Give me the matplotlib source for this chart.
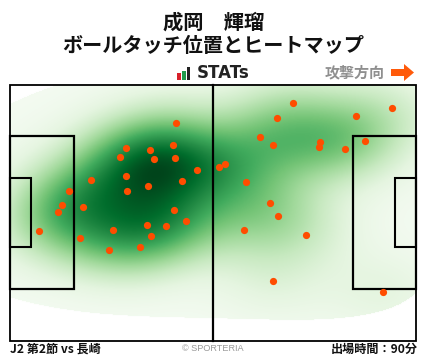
import numpy as np
import matplotlib
matplotlib.use("Agg")
import matplotlib.pyplot as plt
from matplotlib.patches import Rectangle, FancyArrow

plt.rcParams['font.family'] = ['Noto Sans CJK JP', 'DejaVu Sans']

W, H = 428, 359
touch_x = [176.3,126.3,150.3,173.3,120.3,154.3,175.3,197.3,126.3,182.3,91.3,148.3,127.3,69.3,62.3,58.3,83.3,174.3,
           186.3,147.3,166.3,113.3,151.3,39.3,80.3,109.3,140.3,
           293.3,277.3,392.3,356.3,260.3,273.3,320.3,319.3,345.3,365.3,225.3,219.3,246.3,270.3,278.3,
           244.3,306.3,273.3,383.3]
touch_y = [123.3,148.3,150.3,145.3,157.3,159.3,158.3,170.3,176.3,181.3,180.3,186.3,191.3,191.3,205.3,212.3,207.3,210.3,
           221.3,225.3,226.3,230.3,236.3,231.3,238.3,250.3,247.3,
           103.3,118.3,108.3,116.3,137.3,145.3,142.3,147.3,149.3,141.3,164.3,167.3,182.3,203.3,216.3,
           230.3,235.3,281.3,292.3]
title_lines = ["成岡　輝瑠", "ボールタッチ位置とヒートマップ"]
left_note = "J2 第2節 vs 長崎"
right_note = "出場時間：90分"
credit = "© SPORTERIA"
direction = "攻撃方向"
logo_text = "STATs"

L, R, T, B = 10.5, 416.5, 84.5, 340.5

fig = plt.figure(figsize=(W/100, H/100), dpi=100)
ax = fig.add_axes([0, 0, 1, 1])
ax.set_xlim(0, W); ax.set_ylim(H, 0); ax.axis('off')

# density estimate from the touches: a main kernel plus a faint wide one
gx = np.linspace(L, R, 407); gy = np.linspace(T, B, 257)
X, Y = np.meshgrid(gx, gy)
px = np.array(touch_x); py = np.array(touch_y)
Z1 = np.zeros_like(X); Z2 = np.zeros_like(X)
for a, b in zip(px, py):
    Z1 += np.exp(-((X-a)/40)**2/2 - ((Y-b)/28)**2/2)
    Z2 += np.exp(-((X-a)/85)**2/2 - ((Y-b)/40)**2/2)
Z1 = Z1/Z1.max(); Z2 = Z2/Z2.max()
Z = Z1*0.91 + 0.07*Z2
Z = np.where(Z2 < 0.07, np.nan, Z + 0.02)
cmap = matplotlib.colormaps['Greens'].copy()
cmap.set_bad('white')
ax.imshow(Z, extent=[L, R, B, T], cmap=cmap, vmin=0, vmax=1.0, aspect='auto',
          interpolation='bilinear', zorder=1)
ax.set_xlim(0, W); ax.set_ylim(H, 0)

lk = dict(fill=False, ec='black', zorder=3)
ax.add_patch(Rectangle((L, T), R-L, B-T, lw=1.3, **lk))
ax.plot([213, 213], [T, B], color='black', lw=1.6, zorder=3)
for x0, x1 in [(L, 73.8), (352.7, R)]:
    ax.add_patch(Rectangle((x0, 136), x1-x0, 153, lw=1.6, **lk))
for x0, x1 in [(L, 31), (395.5, R)]:
    ax.add_patch(Rectangle((x0, 178), x1-x0, 69, lw=1.5, **lk))

ax.scatter(px, py, s=27, color='#ff4d00', linewidths=0, zorder=4)

ax.text(213.5, 22, title_lines[0], ha='center', va='center', fontsize=14.6, fontweight='bold', color='#111111')
ax.text(213.5, 46, title_lines[1], ha='center', va='center', fontsize=14.5, fontweight='bold', color='#111111')

ax.add_patch(Rectangle((177, 73), 4, 7, color='#d8202a', lw=0))
ax.add_patch(Rectangle((182, 71), 4, 9, color='#1f9a4a', lw=0))
ax.add_patch(Rectangle((187, 67), 3.5, 13, color='#222222', lw=0))
ax.text(196.5, 73.5, logo_text, ha='left', va='center', fontsize=12, fontweight='bold', color='#222222',
        family='DejaVu Sans')

ax.text(385, 72, direction, ha='right', va='center', fontsize=10.8, fontweight='bold', color='#8f8f8f')
ax.add_patch(FancyArrow(391, 72.5, 23, 0, width=7, head_width=17, head_length=10,
                        length_includes_head=True, color='#ff5a0a', lw=0))

ax.text(10, 349.5, left_note, ha='left', va='center', fontsize=8.7, fontweight='bold', color='#111111')
ax.text(213, 348.5, credit, ha='center', va='center', fontsize=6.6, color='#999999', family='Liberation Sans')
ax.text(417.5, 349.5, right_note, ha='right', va='center', fontsize=8.7, fontweight='bold', color='#111111')

fig.savefig('out.png', dpi=100)
